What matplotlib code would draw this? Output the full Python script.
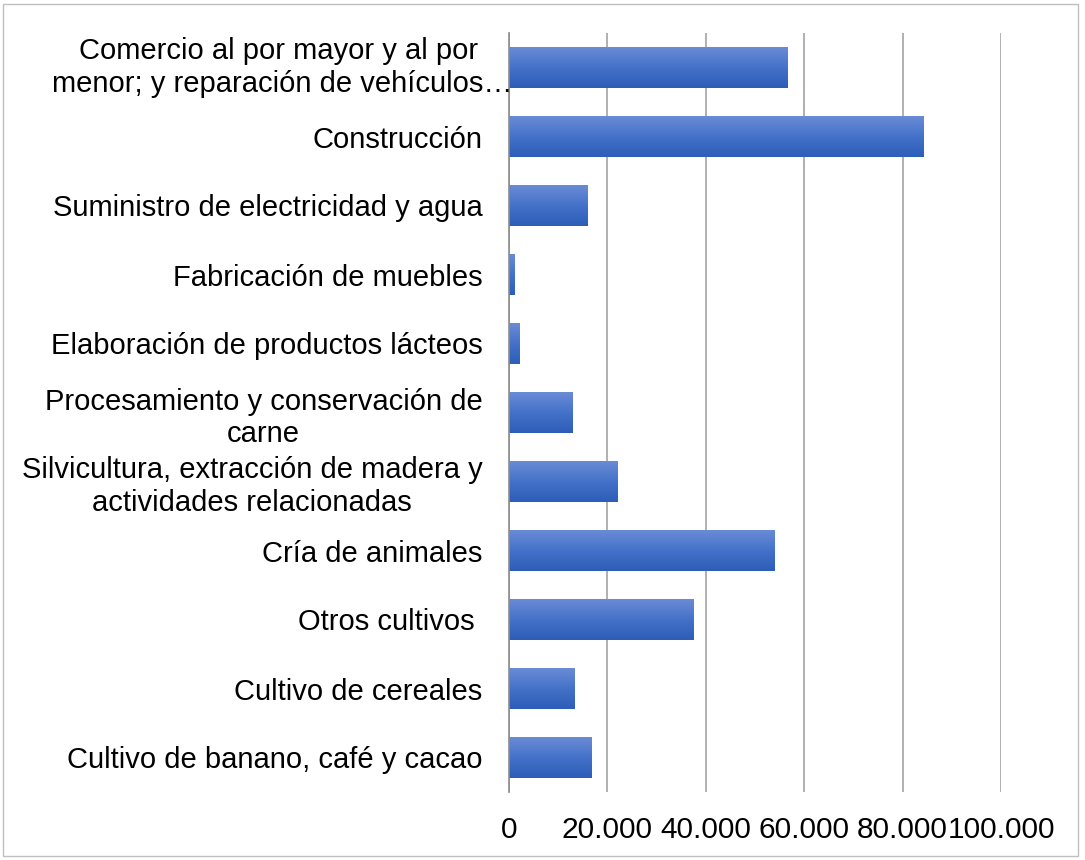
"""Barras horizontales por actividad economica (estilo Excel)."""

import matplotlib
matplotlib.use("Agg")
import matplotlib.pyplot as plt
import numpy as np
from matplotlib.colors import LinearSegmentedColormap
from matplotlib.patches import Rectangle

# de abajo hacia arriba
categorias = [
    "Cultivo de banano, café y cacao",
    "Cultivo de cereales",
    "Otros cultivos ",
    "Cría de animales",
    "Silvicultura, extracción de madera y\nactividades relacionadas",
    "Procesamiento y conservación de\ncarne",
    "Elaboración de productos lácteos",
    "Fabricación de muebles",
    "Suministro de electricidad y agua",
    "Construcción",
    "Comercio al por mayor y al por \nmenor; y reparación de vehículos…",
]
valores = [16700, 13400, 37400, 53900, 22000, 13000, 2200, 1200, 15900, 84300, 56700]
ticks_x = [0, 20000, 40000, 60000, 80000, 100000]
ticks_lbl = ["0", "20.000", "40.000", "60.000", "80.000", "100.000"]

plt.rcParams["font.family"] = ["Liberation Sans", "DejaVu Sans"]

fig = plt.figure(figsize=(10.85, 8.6), dpi=100)
ax = fig.add_axes([509 / 1085, 1 - 792 / 860, (1001 - 509) / 1085, (792 - 33) / 860])

cmap = LinearSegmentedColormap.from_list("barra", ["#6A8BD6", "#4472C9", "#2D5DB8"])
grad = np.linspace(0, 1, 64).reshape(-1, 1)
alto = 0.58
for i, v in enumerate(valores):
    ax.imshow(grad, cmap=cmap, aspect="auto", origin="upper",
              extent=[0, v, i - alto / 2, i + alto / 2], zorder=2,
              interpolation="bilinear")

ax.set_xlim(0, 100000)
ax.set_ylim(-0.5, len(categorias) - 0.5)
ax.set_xticks(ticks_x)
ax.set_xticklabels(ticks_lbl, fontsize=21.5)
ax.set_yticks(range(len(categorias)))
# la ultima etiqueta (truncada en el original) se dibuja aparte, desbordando el eje
ax.set_yticklabels(categorias[:-1] + [""], fontsize=21, linespacing=1.22,
                   multialignment="center")
ax.annotate(categorias[-1], xy=(0, len(categorias) - 1),
            xycoords=("axes fraction", "data"), xytext=(2.5, 0),
            textcoords="offset points", ha="right", va="center",
            fontsize=21, linespacing=1.22, multialignment="center")
ax.tick_params(axis="y", length=0, pad=19)
ax.tick_params(axis="x", length=0, pad=17)
ax.grid(axis="x", color="#A3A3A3", lw=1.2, zorder=0)
ax.set_axisbelow(True)
for side in ["top", "right", "bottom"]:
    ax.spines[side].set_visible(False)
ax.spines["left"].set_color("#8C8C8C")
ax.spines["left"].set_linewidth(1.2)

fig.patches.append(Rectangle((3 / 1085, 4 / 860), 1075 / 1085, 852 / 860,
                             transform=fig.transFigure, fill=False,
                             edgecolor="#BFBFBF", lw=1))

fig.savefig("out.png", dpi=100)
